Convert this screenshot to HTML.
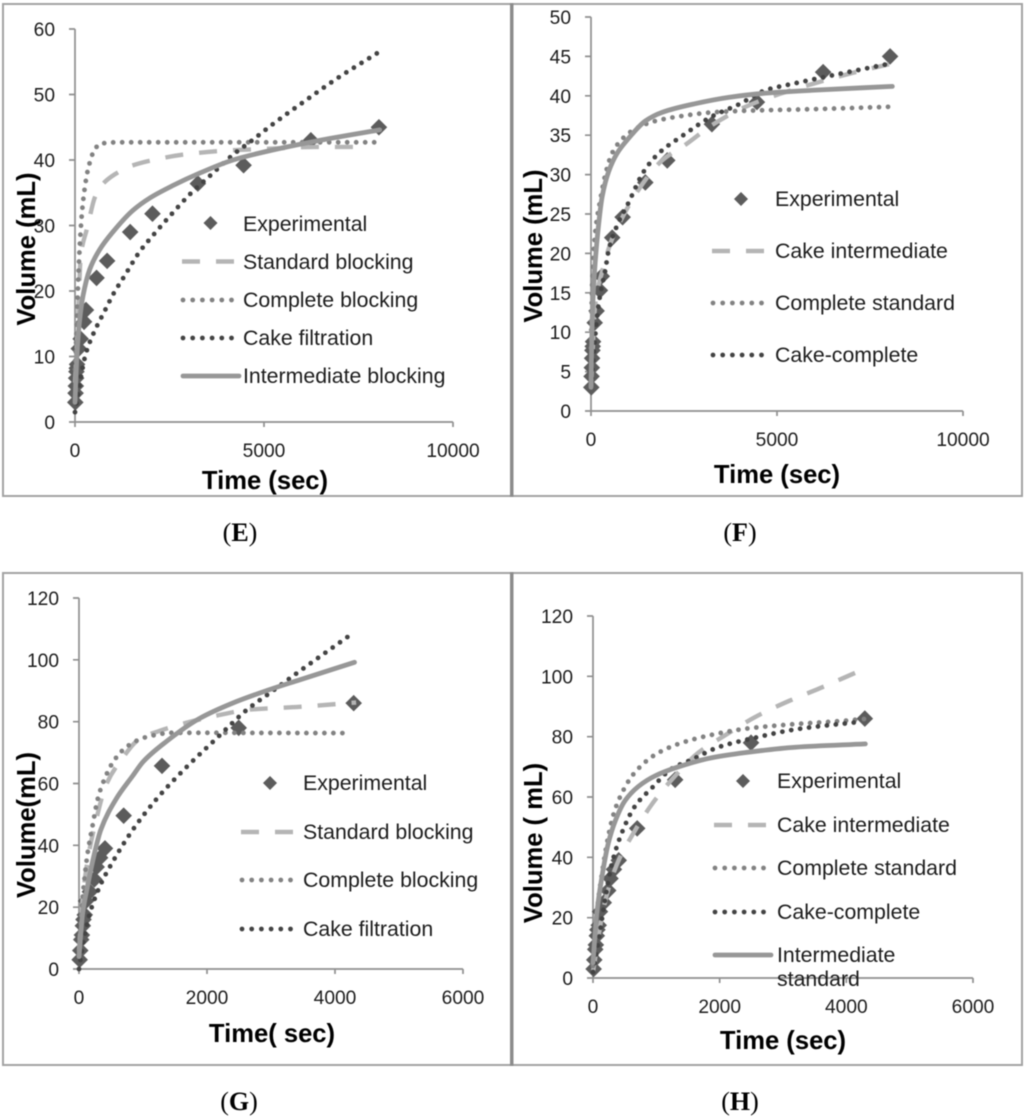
<!DOCTYPE html>
<html lang="en">
<head>
<meta charset="utf-8">
<title>Filtration model fits (E-H)</title>
<style>
html,body{margin:0;padding:0;background:#fff;width:1024px;height:1117px;overflow:hidden}
svg{display:block;filter:blur(0.55px)}
text{font-family:"Liberation Sans",sans-serif;fill:#1c1c1c}
.tick{font-size:19.2px}
.leg{font-size:21.3px}
.title{font-size:25.6px;font-weight:bold;fill:#000}
.cap{font-family:"Liberation Serif",serif;font-size:26px;fill:#000}
.cap tspan{font-weight:bold}
.frame{fill:#fff;stroke:#a3a3a3;stroke-width:2}
.std{stroke:#b5b5b5;stroke-width:4.4;fill:none;stroke-dasharray:18 16}
.cmp{stroke:#828282;stroke-width:4.8;fill:none;stroke-dasharray:0 9;stroke-linecap:round}
.cak{stroke:#434343;stroke-width:4.8;fill:none;stroke-dasharray:0 9;stroke-linecap:round}
.int{stroke:#979797;stroke-width:4.8;fill:none;stroke-linejoin:round;stroke-linecap:round}
.dia{fill:#5c5c5c}
</style>
</head>
<body>
<svg id="chart" xmlns="http://www.w3.org/2000/svg" width="1024" height="1117" viewBox="0 0 1024 1117">
  <rect class="frame" x="3" y="4" width="508" height="492"/>
  <rect class="frame" x="512" y="4" width="510" height="492"/>
  <rect class="frame" x="3" y="573" width="508" height="492"/>
  <rect class="frame" x="512" y="573" width="510" height="492"/>
  <rect x="510" y="3" width="3.5" height="494" fill="#8c8c8c"/>
  <rect x="510" y="572" width="3.5" height="494" fill="#8c8c8c"/>

  <g id="panel-e">
    <text class="title" x="265" y="489" text-anchor="middle">Time (sec)</text>
    <text class="title" transform="translate(35,249) rotate(-90)" text-anchor="middle">Volume (mL)</text>
    <path class="dia" d="M210.500 216l7 7-7 7-7-7z"/>
    <text class="leg" x="243" y="231">Experimental</text>
    <line class="std" x1="182" y1="261.500" x2="240" y2="261.500"/>
    <text class="leg" x="243" y="269">Standard blocking</text>
    <line class="cmp" x1="183" y1="300" x2="240" y2="300" style="stroke-dasharray:0 9.700"/>
    <text class="leg" x="243" y="307">Complete blocking</text>
    <line class="cak" x1="183" y1="338" x2="240" y2="338" style="stroke-dasharray:0 9.700"/>
    <text class="leg" x="243" y="345">Cake filtration</text>
    <line class="int" x1="183" y1="376" x2="239" y2="376"/>
    <text class="leg" x="243" y="383">Intermediate blocking</text>
    <text class="cap" x="240" y="541" text-anchor="middle">(<tspan>E</tspan>)</text>
  </g>

  <g id="panel-f">
    <text class="title" x="777" y="483" text-anchor="middle">Time (sec)</text>
    <text class="title" transform="translate(542,246) rotate(-90)" text-anchor="middle">Volume (mL)</text>
    <path class="dia" d="M741 192l7 7-7 7-7-7z"/>
    <text class="leg" x="775" y="206">Experimental</text>
    <line class="std" x1="712" y1="251" x2="766" y2="251"/>
    <text class="leg" x="775" y="258">Cake intermediate</text>
    <line class="cmp" x1="713" y1="303" x2="766" y2="303" style="stroke-dasharray:0 9.700"/>
    <text class="leg" x="775" y="310">Complete standard</text>
    <line class="cak" x1="713" y1="355" x2="766" y2="355" style="stroke-dasharray:0 9.700"/>
    <text class="leg" x="775" y="362">Cake-complete</text>
    <text class="cap" x="740" y="541" text-anchor="middle">(<tspan>F</tspan>)</text>
  </g>

  <g id="panel-g">
    <text class="title" x="272" y="1042" text-anchor="middle">Time( sec)</text>
    <text class="title" transform="translate(35,825) rotate(-90)" text-anchor="middle">Volume(mL)</text>
    <path class="dia" d="M270 776l7 7-7 7-7-7z"/>
    <text class="leg" x="303" y="790">Experimental</text>
    <line class="std" x1="241" y1="832" x2="295" y2="832"/>
    <text class="leg" x="303" y="839">Standard blocking</text>
    <line class="cmp" x1="242" y1="880" x2="295" y2="880" style="stroke-dasharray:0 9.700"/>
    <text class="leg" x="303" y="887">Complete blocking</text>
    <line class="cak" x1="242" y1="929" x2="295" y2="929" style="stroke-dasharray:0 9.700"/>
    <text class="leg" x="303" y="936">Cake filtration</text>
    <text class="cap" x="239" y="1110" text-anchor="middle">(<tspan>G</tspan>)</text>
  </g>

  <g id="panel-h">
    <text class="title" x="783" y="1049" text-anchor="middle">Time (sec)</text>
    <text class="title" transform="translate(542,843) rotate(-90)" text-anchor="middle">Volume ( mL)</text>
    <path class="dia" d="M743 774l7 7-7 7-7-7z"/>
    <text class="leg" x="777" y="788">Experimental</text>
    <line class="std" x1="714" y1="825" x2="768" y2="825"/>
    <text class="leg" x="777" y="832">Cake intermediate</text>
    <line class="cmp" x1="715" y1="868" x2="768" y2="868" style="stroke-dasharray:0 9.700"/>
    <text class="leg" x="777" y="875">Complete standard</text>
    <line class="cak" x1="715" y1="912" x2="768" y2="912" style="stroke-dasharray:0 9.700"/>
    <text class="leg" x="777" y="919">Cake-complete</text>
    <line class="int" x1="715" y1="955" x2="771" y2="955"/>
    <text class="leg" x="777" y="962">Intermediate</text>
    <text class="leg" x="777" y="986">standard</text>
    <text class="cap" x="740" y="1110" text-anchor="middle">(<tspan>H</tspan>)</text>
  </g>
</svg>
<script>
// Experimental data
const timeEF = [8, 15, 22, 30, 38, 46, 55, 100, 150, 240, 290, 570, 850, 1460, 2050, 3250, 4460, 6240, 8040];
const volumeEF = [3, 4.4, 5.5, 6.7, 7.7, 8.2, 8.8, 11.2, 12.7, 15.3, 17.1, 22, 24.6, 29, 31.8, 36.4, 39.2, 43, 45];
const timeGH = [10, 20, 35, 45, 60, 70, 90, 110, 170, 240, 276, 330, 406, 698, 1297, 2495, 4292];
const volumeGH = [3, 6, 9.5, 11, 14, 16, 17.5, 22, 25, 29, 33, 36, 39, 49.6, 65.7, 78, 86];

// Ticks
const xTicksEF = [0, 5000, 10000];
const yTicksE = [0, 10, 20, 30, 40, 50, 60];
const yTicksF = [0, 5, 10, 15, 20, 25, 30, 35, 40, 45, 50];
const xTicksGH = [0, 2000, 4000, 6000];
const yTicksGH = [0, 20, 40, 60, 80, 100, 120];

// Panel E fits
const eStandardT = [0, 80, 150, 315, 385, 520, 700, 1050, 1490, 2150, 2950, 4180, 5060, 6390, 7710];
const eStandardV = [6, 15.4, 25.2, 29.5, 31.2, 34.2, 36.1, 37.8, 39.1, 40.1, 40.9, 41.5, 41.7, 42, 42];
const eCompleteT = [0, 40, 80, 125, 185, 255, 345, 520, 680, 1180, 7930];
const eCompleteV = [8, 14, 20.8, 26.8, 32, 35.6, 38.6, 41.6, 42.5, 42.7, 42.7];
const eCakeT = [0, 280, 480, 790, 1020, 1310, 1710, 2050, 2550, 3080, 3650, 4180, 4620, 5240, 6080, 6920, 8020];
const eCakeV = [1.5, 10.3, 13.4, 17, 19.6, 22.3, 26, 28.4, 31.7, 35, 38, 40.8, 42.7, 45.5, 49, 52.4, 56.4];
const eIntermT = [0, 50, 120, 210, 390, 650, 1000, 1530, 1980, 2590, 3300, 4180, 5060, 6390, 8060];
const eIntermV = [3, 10, 15.4, 19.2, 23.3, 26.3, 29, 32.3, 34.2, 36.1, 38, 40, 41.3, 42.9, 44.6];

// Panel F fits
const fCakeIntT = [0, 115, 300, 565, 835, 1280, 1910, 2540, 3260, 4150, 5050, 5950, 7020, 8010];
const fCakeIntV = [3, 13.6, 17.7, 21.8, 24.5, 28.1, 31.8, 33.8, 36.3, 38.6, 40.2, 41.5, 42.9, 44];
const fCompStdT = [0, 30, 115, 250, 385, 565, 835, 1190, 1730, 2540, 3260, 4150, 5950, 8010];
const fCompStdV = [8, 16, 22.7, 26.8, 30, 32.7, 34.5, 35.8, 36.8, 37.5, 37.9, 38.1, 38.3, 38.6];
const fCakeCompT = [0, 160, 230, 385, 475, 745, 985, 1420, 1820, 2450, 3260, 3970, 4690, 5500, 6390, 8050];
const fCakeCompV = [3, 11.8, 14.3, 17.9, 20.4, 24, 26.2, 30.4, 32.7, 34.9, 37.4, 38.9, 40.7, 41.6, 42.5, 44.1];
const fIntStdT = [0, 30, 100, 190, 300, 475, 700, 1010, 1460, 1910, 2800, 3700, 4600, 5950, 8100];
const fIntStdV = [3, 11.3, 18, 23, 27.2, 30.4, 32.7, 34.6, 36.8, 37.9, 39, 39.8, 40.3, 40.7, 41.2];

// Panel G fits
const gStandardT = [0, 57, 135, 265, 420, 655, 945, 1255, 1670, 2140, 2665, 3445, 4330];
const gStandardV = [6, 22.5, 35.2, 47.9, 59.4, 67.5, 74.4, 77, 79.6, 81.9, 83.9, 84.8, 86.2];
const gCompleteT = [0, 60, 135, 215, 290, 370, 550, 760, 1050, 1465, 4230];
const gCompleteV = [6, 23.7, 37.5, 46.7, 54.8, 60, 67.5, 72.1, 75, 76.4, 76.3];
const gCakeT = [0, 30, 160, 320, 525, 840, 1205, 1675, 2140, 2610, 3030, 3445, 4230];
const gCakeV = [0, 4, 17.3, 26.5, 34.6, 45, 54.8, 65.2, 74.4, 83.6, 90, 96.3, 107.9];
const gIntermT = [0, 57, 135, 215, 340, 580, 840, 1000, 1360, 1880, 2400, 2925, 3445, 4305];
const gIntermV = [4, 18, 27, 35, 45, 55, 62.5, 67, 73.5, 81, 86, 90, 93.5, 99.2];

// Panel H fits
const hCakeIntT = [0, 30, 137, 242, 400, 610, 930, 1297, 1665, 2090, 2560, 3090, 3565, 4145];
const hCakeIntV = [2, 6, 20, 29.4, 38.8, 47, 57.6, 67, 74.7, 80.5, 86.5, 91.8, 95.9, 101.2];
const hCompStdT = [0, 58, 137, 242, 320, 427, 640, 980, 1350, 1875, 2400, 3090, 3985, 4300];
const hCompStdV = [4, 21, 34, 47, 54, 60, 67.6, 74, 77.6, 80.6, 82.6, 84, 85.3, 85.9];
const hCakeCompT = [0, 74, 190, 295, 453, 665, 930, 1245, 1560, 1980, 2510, 3195, 4250];
const hCakeCompV = [2, 10.6, 25.9, 37.6, 48, 57, 63, 69.4, 72.4, 76.5, 79.4, 82.4, 85];
const hIntStdT = [0, 58, 137, 242, 350, 506, 717, 980, 1350, 1875, 2400, 3195, 4300];
const hIntStdV = [5, 21, 33, 44.7, 52, 58.8, 63.5, 67, 70, 73, 74.7, 76.5, 77.6];

const NS = 'http://www.w3.org/2000/svg';

function smoothPath(xs, ys) {
  const n = xs.length;
  const h = [];
  const s = [];
  for (let i = 0; i < n - 1; i++) {
    h.push(xs[i + 1] - xs[i]);
    s.push((ys[i + 1] - ys[i]) / h[i]);
  }
  const m = [s[0]];
  for (let i = 1; i < n - 1; i++) {
    if (s[i - 1] * s[i] <= 0) {
      m.push(0);
    } else {
      const w1 = 2 * h[i] + h[i - 1];
      const w2 = h[i] + 2 * h[i - 1];
      m.push((w1 + w2) / (w1 / s[i - 1] + w2 / s[i]));
    }
  }
  m.push(s[n - 2]);
  let d = 'M' + xs[0].toFixed(2) + ' ' + ys[0].toFixed(2);
  for (let i = 0; i < n - 1; i++) {
    d += 'C' + (xs[i] + h[i] / 3).toFixed(2) + ' ' + (ys[i] + m[i] * h[i] / 3).toFixed(2) +
      ' ' + (xs[i + 1] - h[i] / 3).toFixed(2) + ' ' + (ys[i + 1] - m[i + 1] * h[i] / 3).toFixed(2) +
      ' ' + xs[i + 1].toFixed(2) + ' ' + ys[i + 1].toFixed(2);
  }
  return d;
}

function drawAxes(group, plot, xTicks, yTicks, sx, sy) {
  const axes = document.createElementNS(NS, 'path');
  
  
  let d = 'M' + plot.x0 + ' ' + plot.yTop + 'V' + (plot.y0 + 5) + 'M' + (plot.x0 - 6) + ' ' + plot.y0 + 'H' + plot.x1;
  xTicks.forEach(function (v) { d += 'M' + sx(v) + ' ' + plot.y0 + 'v5'; });
  yTicks.forEach(function (v) { d += 'M' + (plot.x0 - 6) + ' ' + sy(v) + 'h6'; });
  axes.setAttribute('d', d);
  axes.setAttribute('fill', 'none');
  axes.setAttribute('stroke', '#8f8f8f');
  axes.setAttribute('stroke-width', '1.7');
  group.appendChild(axes);

  xTicks.forEach(function (v) {
    const t = document.createElementNS(NS, 'text');
    
    
    t.setAttribute('class', 'tick');
    t.setAttribute('x', sx(v));
    t.setAttribute('y', plot.y0 + 35);
    t.setAttribute('text-anchor', 'middle');
    t.textContent = v;
    group.appendChild(t);
  });
  yTicks.forEach(function (v) {
    const t = document.createElementNS(NS, 'text');
    
    
    t.setAttribute('class', 'tick');
    t.setAttribute('x', plot.x0 - 20);
    t.setAttribute('y', sy(v) + 7);
    t.setAttribute('text-anchor', 'end');
    t.textContent = v;
    group.appendChild(t);
  });
}

function drawCurve(group, cls, name, times, values, sx, sy) {
  const line = document.createElementNS(NS, 'path');
  
  
  line.setAttribute('class', cls);
  line.setAttribute('d', smoothPath(times.map(sx), values.map(sy)));
  group.appendChild(line);
}

function drawPoints(group, times, values, sx, sy) {
  times.forEach(function (t, i) {
    const m = document.createElementNS(NS, 'path');
    
    
    m.setAttribute('class', 'dia');
    m.setAttribute('d', 'M' + sx(t) + ' ' + (sy(values[i]) - 8.3) + 'l8.3 8.3-8.3 8.3-8.3-8.3z');
    group.appendChild(m);
  });
}

function drawPanel(id, plot, xTicks, yTicks, expT, expV, curves) {
  const group = document.getElementById(id);
  const xMax = xTicks[xTicks.length - 1];
  const yMax = yTicks[yTicks.length - 1];
  const sx = function (v) { return plot.x0 + (plot.x1 - plot.x0) * v / xMax; };
  const sy = function (v) { return plot.y0 - (plot.y0 - plot.yTop) * v / yMax; };
  const marks = document.createElementNS(NS, 'g');
  
  
  drawAxes(marks, plot, xTicks, yTicks, sx, sy);
  drawPoints(marks, expT, expV, sx, sy);
  curves.forEach(function (c) { drawCurve(marks, c[0], c[1], c[2], c[3], sx, sy); });
  group.insertBefore(marks, group.firstChild);
}

drawPanel('panel-e', { x0: 75, x1: 453, y0: 422, yTop: 29 }, xTicksEF, yTicksE, timeEF, volumeEF, [
  ['std', 'standard-blocking-curve', eStandardT, eStandardV],
  ['cmp', 'complete-blocking-curve', eCompleteT, eCompleteV],
  ['cak', 'cake-filtration-curve', eCakeT, eCakeV],
  ['int', 'intermediate-blocking-curve', eIntermT, eIntermV]
]);
drawPanel('panel-f', { x0: 591, x1: 963, y0: 411, yTop: 17 }, xTicksEF, yTicksF, timeEF, volumeEF, [
  ['std', 'cake-intermediate-curve', fCakeIntT, fCakeIntV],
  ['cmp', 'complete-standard-curve', fCompStdT, fCompStdV],
  ['cak', 'cake-complete-curve', fCakeCompT, fCakeCompV],
  ['int', 'intermediate-standard-curve', fIntStdT, fIntStdV]
]);
drawPanel('panel-g', { x0: 79, x1: 463, y0: 969, yTop: 598 }, xTicksGH, yTicksGH, timeGH, volumeGH, [
  ['std', 'standard-blocking-curve', gStandardT, gStandardV],
  ['cmp', 'complete-blocking-curve', gCompleteT, gCompleteV],
  ['cak', 'cake-filtration-curve', gCakeT, gCakeV],
  ['int', 'intermediate-blocking-curve', gIntermT, gIntermV]
]);
drawPanel('panel-h', { x0: 593, x1: 973, y0: 978, yTop: 616 }, xTicksGH, yTicksGH, timeGH, volumeGH, [
  ['std', 'cake-intermediate-curve', hCakeIntT, hCakeIntV],
  ['cmp', 'complete-standard-curve', hCompStdT, hCompStdV],
  ['cak', 'cake-complete-curve', hCakeCompT, hCakeCompV],
  ['int', 'intermediate-standard-curve', hIntStdT, hIntStdV]
]);
</script>
</body>
</html>
